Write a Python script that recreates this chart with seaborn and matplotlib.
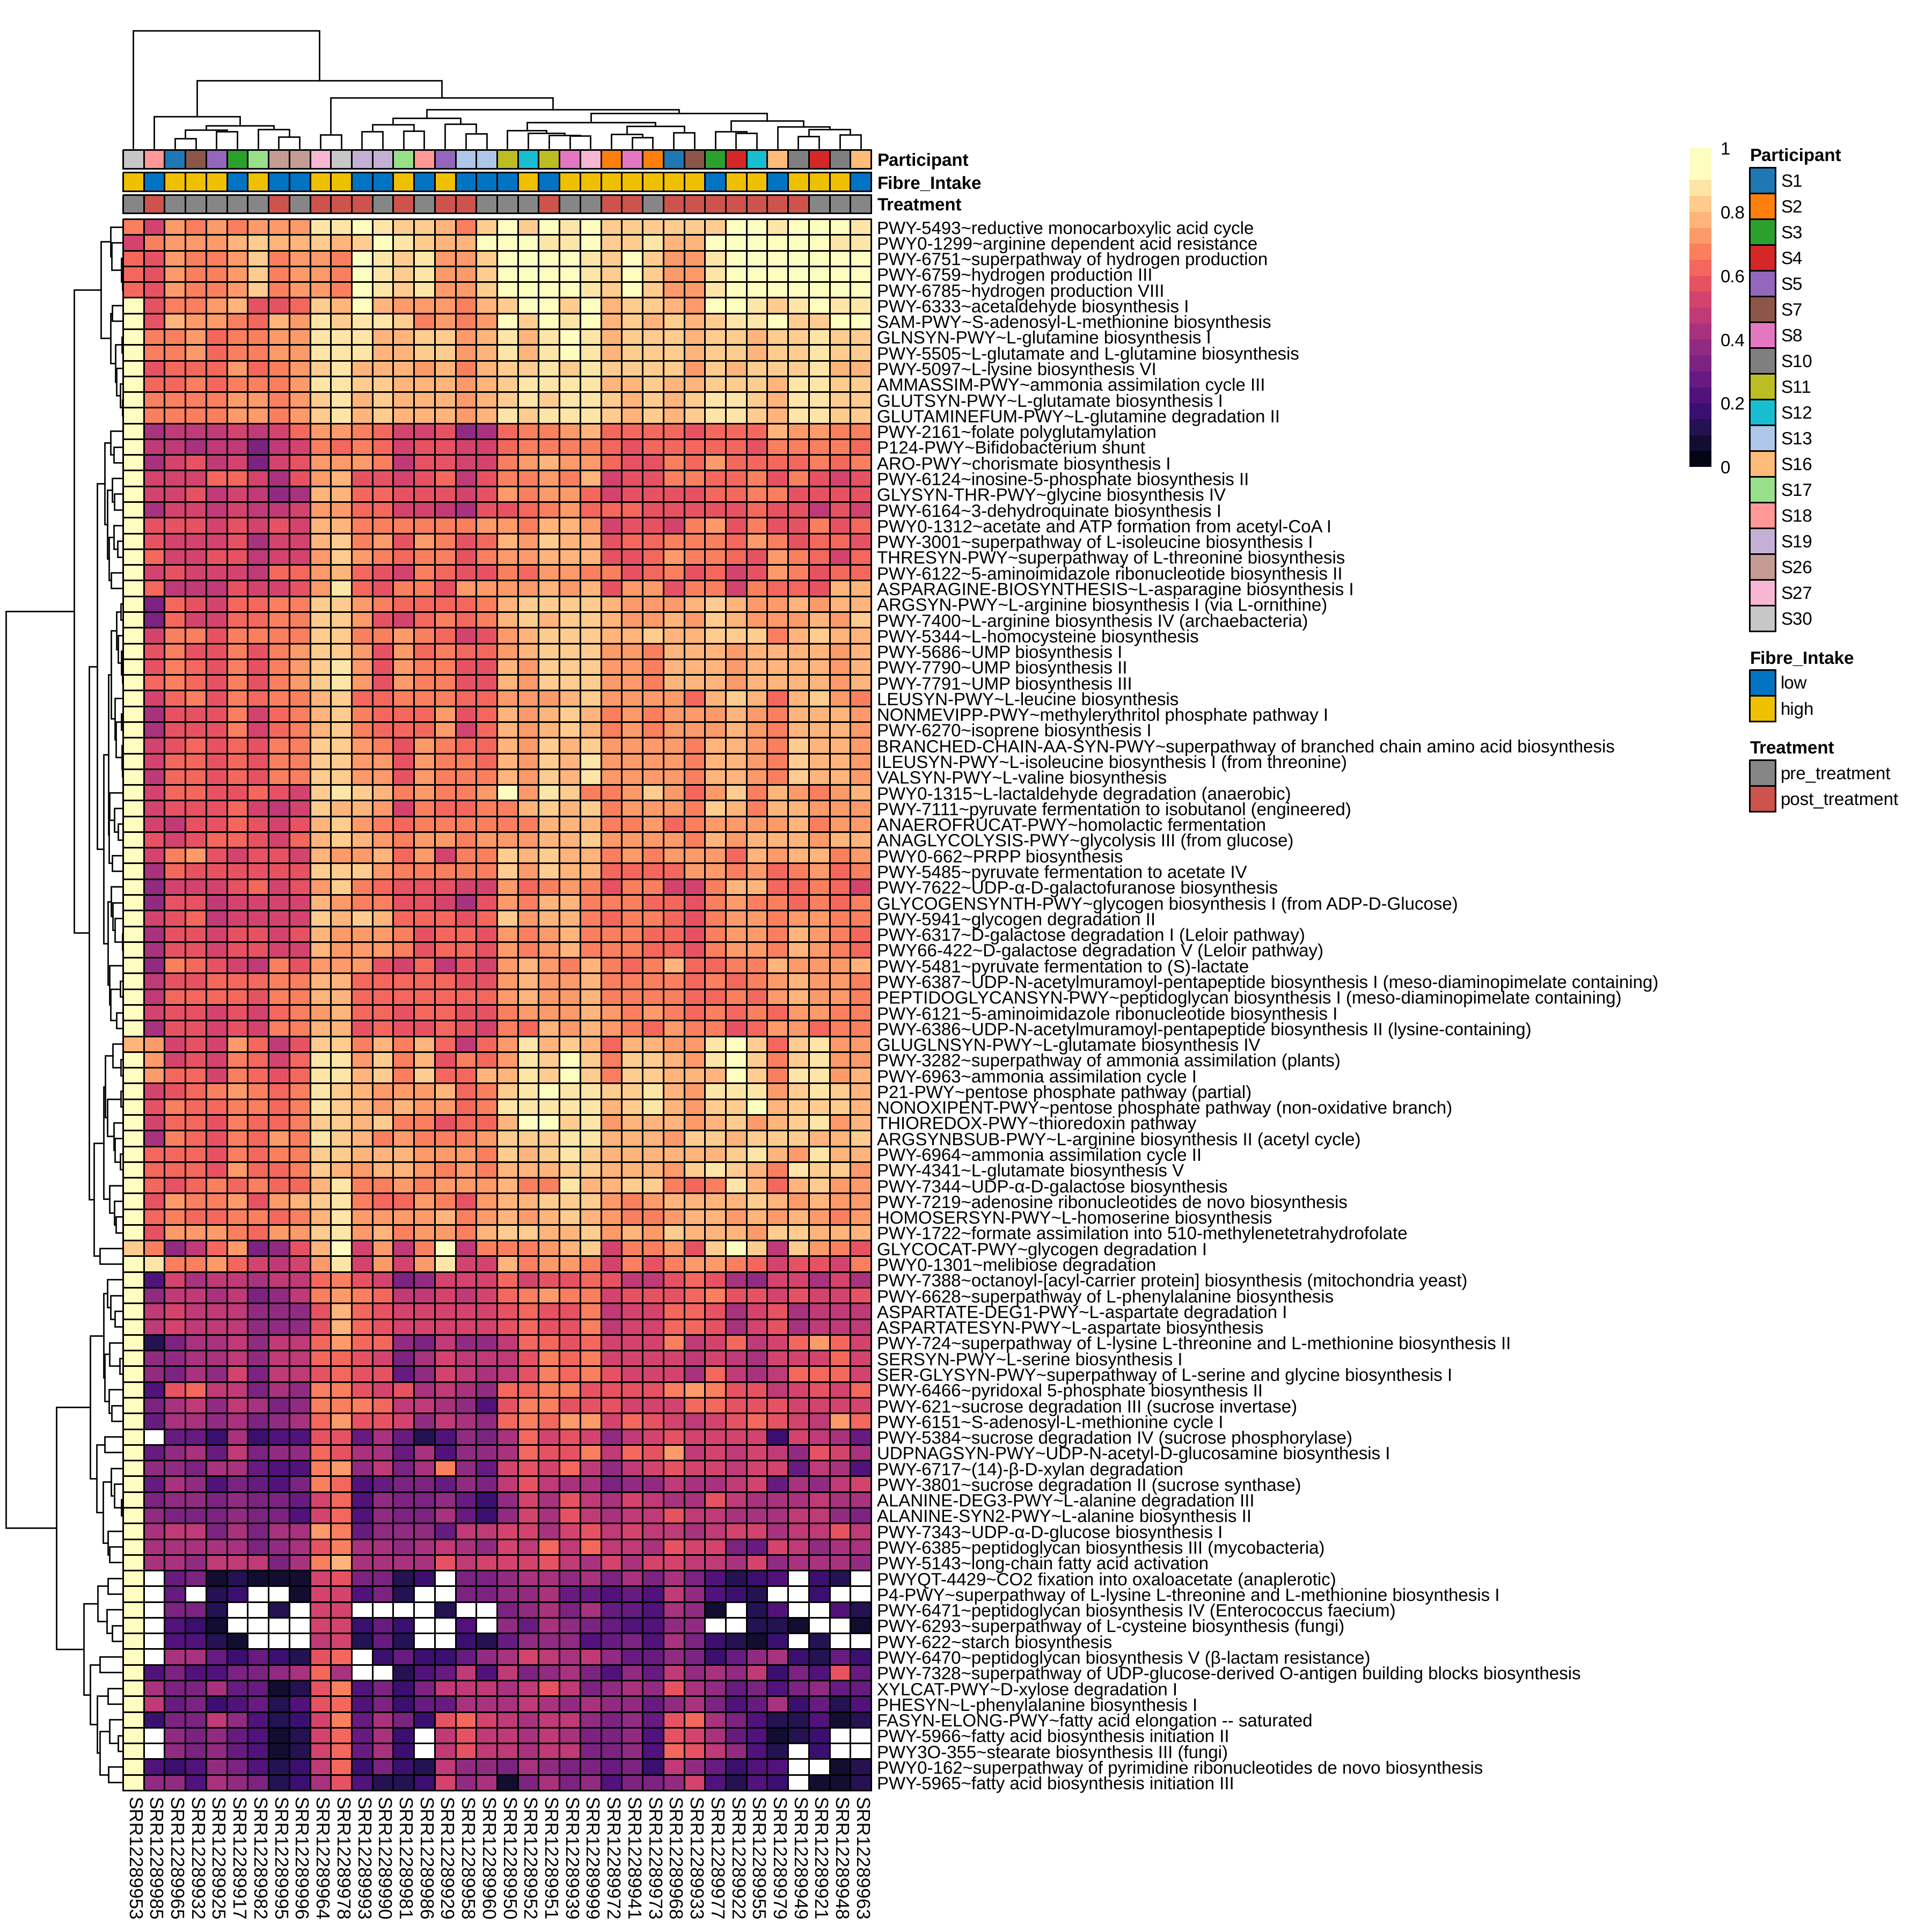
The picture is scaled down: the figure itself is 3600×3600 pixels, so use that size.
import numpy as np
import matplotlib
matplotlib.use("Agg")
import matplotlib.pyplot as plt
from matplotlib.colors import ListedColormap, BoundaryNorm
from matplotlib.transforms import ScaledTranslation
import seaborn as sns

sns.set_theme(style="white")
plt.rcParams['font.family'] = ['Liberation Sans', 'DejaVu Sans']
plt.rcParams['font.size'] = 8
plt.rcParams['text.color'] = 'black'
plt.rcParams['xtick.color'] = 'black'
plt.rcParams['ytick.color'] = 'black'
plt.rcParams['text.hinting'] = 'no_hinting'
plt.rcParams['text.hinting_factor'] = 1

SAMPLES = ["953","985","965","932","925","917","982","995","996","964","978","993","990","981","986","929","958","960",
           "950","952","951","939","999","972","941","973","968","933","977","922","955","979","949","921","948","963"]
SAMPLES = ["SRR12289" + s for s in SAMPLES]

PATHWAYS = """PWY-5493~reductive monocarboxylic acid cycle
PWY0-1299~arginine dependent acid resistance
PWY-6751~superpathway of hydrogen production
PWY-6759~hydrogen production III
PWY-6785~hydrogen production VIII
PWY-6333~acetaldehyde biosynthesis I
SAM-PWY~S-adenosyl-L-methionine biosynthesis
GLNSYN-PWY~L-glutamine biosynthesis I
PWY-5505~L-glutamate and L-glutamine biosynthesis
PWY-5097~L-lysine biosynthesis VI
AMMASSIM-PWY~ammonia assimilation cycle III
GLUTSYN-PWY~L-glutamate biosynthesis I
GLUTAMINEFUM-PWY~L-glutamine degradation II
PWY-2161~folate polyglutamylation
P124-PWY~Bifidobacterium shunt
ARO-PWY~chorismate biosynthesis I
PWY-6124~inosine-5-phosphate biosynthesis II
GLYSYN-THR-PWY~glycine biosynthesis IV
PWY-6164~3-dehydroquinate biosynthesis I
PWY0-1312~acetate and ATP formation from acetyl-CoA I
PWY-3001~superpathway of L-isoleucine biosynthesis I
THRESYN-PWY~superpathway of L-threonine biosynthesis
PWY-6122~5-aminoimidazole ribonucleotide biosynthesis II
ASPARAGINE-BIOSYNTHESIS~L-asparagine biosynthesis I
ARGSYN-PWY~L-arginine biosynthesis I (via L-ornithine)
PWY-7400~L-arginine biosynthesis IV (archaebacteria)
PWY-5344~L-homocysteine biosynthesis
PWY-5686~UMP biosynthesis I
PWY-7790~UMP biosynthesis II
PWY-7791~UMP biosynthesis III
LEUSYN-PWY~L-leucine biosynthesis
NONMEVIPP-PWY~methylerythritol phosphate pathway I
PWY-6270~isoprene biosynthesis I
BRANCHED-CHAIN-AA-SYN-PWY~superpathway of branched chain amino acid biosynthesis
ILEUSYN-PWY~L-isoleucine biosynthesis I (from threonine)
VALSYN-PWY~L-valine biosynthesis
PWY0-1315~L-lactaldehyde degradation (anaerobic)
PWY-7111~pyruvate fermentation to isobutanol (engineered)
ANAEROFRUCAT-PWY~homolactic fermentation
ANAGLYCOLYSIS-PWY~glycolysis III (from glucose)
PWY0-662~PRPP biosynthesis
PWY-5485~pyruvate fermentation to acetate IV
PWY-7622~UDP-α-D-galactofuranose biosynthesis
GLYCOGENSYNTH-PWY~glycogen biosynthesis I (from ADP-D-Glucose)
PWY-5941~glycogen degradation II
PWY-6317~D-galactose degradation I (Leloir pathway)
PWY66-422~D-galactose degradation V (Leloir pathway)
PWY-5481~pyruvate fermentation to (S)-lactate
PWY-6387~UDP-N-acetylmuramoyl-pentapeptide biosynthesis I (meso-diaminopimelate containing)
PEPTIDOGLYCANSYN-PWY~peptidoglycan biosynthesis I (meso-diaminopimelate containing)
PWY-6121~5-aminoimidazole ribonucleotide biosynthesis I
PWY-6386~UDP-N-acetylmuramoyl-pentapeptide biosynthesis II (lysine-containing)
GLUGLNSYN-PWY~L-glutamate biosynthesis IV
PWY-3282~superpathway of ammonia assimilation (plants)
PWY-6963~ammonia assimilation cycle I
P21-PWY~pentose phosphate pathway (partial)
NONOXIPENT-PWY~pentose phosphate pathway (non-oxidative branch)
THIOREDOX-PWY~thioredoxin pathway
ARGSYNBSUB-PWY~L-arginine biosynthesis II (acetyl cycle)
PWY-6964~ammonia assimilation cycle II
PWY-4341~L-glutamate biosynthesis V
PWY-7344~UDP-α-D-galactose biosynthesis
PWY-7219~adenosine ribonucleotides de novo biosynthesis
HOMOSERSYN-PWY~L-homoserine biosynthesis
PWY-1722~formate assimilation into 510-methylenetetrahydrofolate
GLYCOCAT-PWY~glycogen degradation I
PWY0-1301~melibiose degradation
PWY-7388~octanoyl-[acyl-carrier protein] biosynthesis (mitochondria yeast)
PWY-6628~superpathway of L-phenylalanine biosynthesis
ASPARTATE-DEG1-PWY~L-aspartate degradation I
ASPARTATESYN-PWY~L-aspartate biosynthesis
PWY-724~superpathway of L-lysine L-threonine and L-methionine biosynthesis II
SERSYN-PWY~L-serine biosynthesis I
SER-GLYSYN-PWY~superpathway of L-serine and glycine biosynthesis I
PWY-6466~pyridoxal 5-phosphate biosynthesis II
PWY-621~sucrose degradation III (sucrose invertase)
PWY-6151~S-adenosyl-L-methionine cycle I
PWY-5384~sucrose degradation IV (sucrose phosphorylase)
UDPNAGSYN-PWY~UDP-N-acetyl-D-glucosamine biosynthesis I
PWY-6717~(14)-β-D-xylan degradation
PWY-3801~sucrose degradation II (sucrose synthase)
ALANINE-DEG3-PWY~L-alanine degradation III
ALANINE-SYN2-PWY~L-alanine biosynthesis II
PWY-7343~UDP-α-D-glucose biosynthesis I
PWY-6385~peptidoglycan biosynthesis III (mycobacteria)
PWY-5143~long-chain fatty acid activation
PWYQT-4429~CO2 fixation into oxaloacetate (anaplerotic)
P4-PWY~superpathway of L-lysine L-threonine and L-methionine biosynthesis I
PWY-6471~peptidoglycan biosynthesis IV (Enterococcus faecium)
PWY-6293~superpathway of L-cysteine biosynthesis (fungi)
PWY-622~starch biosynthesis
PWY-6470~peptidoglycan biosynthesis V (β-lactam resistance)
PWY-7328~superpathway of UDP-glucose-derived O-antigen building blocks biosynthesis
XYLCAT-PWY~D-xylose degradation I
PHESYN~L-phenylalanine biosynthesis I
FASYN-ELONG-PWY~fatty acid elongation -- saturated
PWY-5966~fatty acid biosynthesis initiation II
PWY3O-355~stearate biosynthesis III (fungi)
PWY0-162~superpathway of pyrimidine ribonucleotides de novo biosynthesis
PWY-5965~fatty acid biosynthesis initiation III""".split("\n")

# Abundance bands: one character per cell, 0-9 then a-i
# (band width 0.05, 'i' is the 0.9-1 band), '.' is an empty cell.
LEVELS = [
"daededeeehhihggfdgigihiggggggiihiiih",
"adeeefgffgfgihgffiiihhigghffiiiiiihh",
"cbeddegdeedihgheegiiiihgigeehiiiiiii",
"cbeddegdeedihgheegiiiihgigeehiiiiiii",
"cbeddegdeedihgheegiiiihgigeehiiiiiii",
"ibddefbbcgfifeeedfgiigifggfeiihghihh",
"ibfeedcfehghhgdedeigihifgfgfghhiggii",
"iddecddeehhhffggefhfhihfgggfggfgghgg",
"iddecddeehhhffggefhfhihfgggfggfgghgg",
"ibcccecdeghfffefdfgghghggggegfggghff",
"iccdcdddehhggfffefghhhhffgffgggfhhgg",
"iddddeedeghfgfffefghghhgfgfghhgfhhgg",
"iddddeedeghfgfffefhghhhgfgfghhgfhhgg",
"i8999a9aceedcaab78cddefccccbcccfeedd",
"i9989969a"+"dcdcabba"+"acdddd"+"cbccc"+"ccbddddc",
"i8ab9a6ab"+"eeed9bba"+"adefee"+"cbbdc"+"eccccdcd",
"iaaacca8b"+"efbbabc9"+"bddedf"+"abbdd"+"ccdbdbab",
"iaab9a978"+"ffccbbba"+"bedeec"+"abbbb"+"ccddbbbb",
"i8aa9a99a"+"eeccaa98"+"bbcdec"+"ccbbb"+"bbcbb9ba",
"ibbbababa"+"ffdddddd"+"eedffe"+"abbad"+"ebdbbdbc",
"ibaaab8aa"+"fgdebedb"+"cfegff"+"bccdd"+"dcedbccb",
"icaabb9aa"+"egedcddb"+"deefff"+"bbced"+"dcbedcac",
"iabaaa9cc"+"efcbadcb"+"bdceed"+"dbcdb"+"cabedbcc",
"ic999baab"+"ehcbddbe"+"eeefef"+"beebd"+"dadccbff",
"i6cbaccdd"+"ggedcccc"+"dfgggg"+"feeef"+"gfeefeff",
"i6caaccdd"+"ggebacdc"+"dfgfgg"+"feefe"+"gfeeefeg",
"iaddbdddd"+"ggddedca"+"befggg"+"ffgff"+"gggdfgff",
"ibdbbdbde"+"ggebecdc"+"cefggg"+"eedff"+"feffffef",
"ibdcbdbde"+"ghebeddb"+"bfeggg"+"eedff"+"feffffef",
"icdcbdbde"+"ghebeddb"+"bfeggg"+"eedff"+"feffffef",
"iacdbdcdd"+"fgccdddc"+"ceeefg"+"eeeec"+"fgfcfged",
"i8bbbdacd"+"fgdccceb"+"cfefgf"+"dedee"+"efedfffe",
"i8bbbdacd"+"fgdcccea"+"cfefgf"+"dedee"+"efedfffe",
"iabcbcbdd"+"ggedbedc"+"cfegfg"+"eeeed"+"ffedgffe",
"iaccbcbdd"+"ggeebedd"+"cfegfh"+"eeeed"+"ffedgffe",
"i9ccbcbdd"+"ggeebedd"+"dfegfh"+"eeeed"+"ffedgffe",
"iaccbbcba"+"ghgfdedd"+"eiehgd"+"degec"+"egdfedef",
"iabbbca9a"+"gffeadcc"+"ddfgfg"+"deeed"+"gfdffeee",
"ia9bbcbab"+"fgedcddd"+"dddfff"+"ddecd"+"eeeefdee",
"ibabccbac"+"fgfedeed"+"eeeffg"+"eeeed"+"fefffeff",
"iadebabba"+"feefcead"+"dgfgff"+"dedee"+"ecfeffde",
"i8cbbbbbb"+"gggedddd"+"dgegff"+"cccce"+"edecdecd",
"i7aaabcab"+"egdcbbba"+"aecded"+"bddaa"+"dffccdca",
"i7bb9aaaa"+"feddbba8"+"bedffd"+"ddccb"+"deddcdcd",
"iabc9aaaa"+"gfgfcccb"+"cgeffd"+"cddcb"+"deedeedd",
"i8bbabbab"+"feeedbcc"+"bedefd"+"ddccb"+"deedfedc",
"i8bbabbaa"+"feeedbcc"+"bedefd"+"ddccb"+"deedfedc",
"i7dcba9db"+"eeebac9b"+"aefedf"+"dcdfc"+"cddfeeef",
"i9bbcccdd"+"ffcccccb"+"befeef"+"ddddc"+"dcdefeed",
"i9ccccbdd"+"ffcccccc"+"cefeef"+"ddddc"+"cdcefeed",
"iabbabacd"+"efccbccb"+"bdeeef"+"ededc"+"dcdceedd",
"i8bbabadd"+"ffbcbbcb"+"adcfef"+"edced"+"dbceecdd",
"feabaec9b"+"ggdfdfc9"+"cehfgf"+"cffee"+"higcghee",
"ieabadcac"+"hhegdfbd"+"cehgig"+"dggfe"+"higdghee",
"ieccadcbc"+"hhfgdgcc"+"ffhgig"+"dggff"+"figdhhef",
"iabcdedcd"+"hgfeeefc"+"dghihh"+"gghfe"+"hhheghgf",
"ibdccddcd"+"hgfefeec"+"dhhhhh"+"fghfe"+"ggifgggf",
"iaccbdccd"+"ggfgddbc"+"cfiigh"+"efffe"+"fgefghef",
"i8dcbdced"+"hgfdeddd"+"eggghh"+"fffeg"+"gfgggffg",
"icccbdcdd"+"ggfffeee"+"dgfghg"+"fffff"+"fghfehff",
"icccbeccd"+"gfeffede"+"dfffgg"+"fffeg"+"hgfdhgge",
"icbcdcdcc"+"fhddedee"+"efddhf"+"fggdc"+"dhfcfgee",
"ibeddebef"+"ghdccedb"+"effggg"+"edeff"+"ffgfefee",
"icdccddcd"+"fheeeefd"+"efefgf"+"eddef"+"fefefede",
"ibeeedcee"+"ghefdeed"+"fggffg"+"efegf"+"ffeggfff",
"gd79ce67b"+"fiae9di9"+"dddefg"+"addeb"+"gig9gedb",
"ihddeca9a"+"ehaeaeha"+"afdeed"+"adbde"+"edcabbad",
"i4a899899"+"cdba67aa"+"acabbc"+"b99bc"+"b87aa8a8",
"i79989679"+"dedc99a9"+"acdedd"+"abbbc"+"dbbabaab",
"i9a999777"+"bfcbaaaa"+"abcbbd"+"9aacc"+"b8ab8999",
"i9a999777"+"bfcbaaaa"+"abcbbd"+"9aacc"+"b8ab8999",
"i26889799"+"cecc7697"+"79ccbc"+"aaad9"+"ac9aceca",
"i77889799"+"ccba68a9"+"99bdcd"+"aaaa9"+"a98aaaca",
"i7687a699"+"bcbb57a9"+"89bdcd"+"baaa8"+"c989ccca",
"i4bc99687"+"ddbab898"+"7ccddb"+"bbbde"+"dbb9abac",
"i68979867"+"dddc9987"+"4bddbb"+"baaac"+"cbbbaaaa",
"i58878678"+"cebba798"+"7cdcee"+"acba9"+"abcba9ec",
"i.5538344"+"bb585247"+"68caba"+"79aba"+"aaa3a985",
"i57859677"+"cb885847"+"78cbbd"+"9cbe9"+"a9a97ba8",
"i77688544"+"de7968d7"+"5abac9"+"79aba"+"a9aa5984",
"i58746546"+"dc456657"+"69b988"+"67798"+"89a5879a",
"i67767665"+"ac476675"+"37a8b9"+"8a988"+"b9888988",
"i76667664"+"ac476685"+"37a8b9"+"899b9"+"98889976",
"i89968688"+"ed577759"+"9aa8ab"+"9a998"+"9aa899b9",
"i88888678"+"bd887898"+"7a9c9c"+"998ba"+"a65a9788",
"i88799968"+"df8888b9"+"aaab98"+"a8aa9"+"98a78887",
"i.5612111"+"ab6623.6"+"678878"+"68686"+"4234.32.",
"i.5.23..1"+"aa462..6"+"677855"+"45497"+"432..3..",
"i.662..2."+"aa....2."+".67868"+"55487"+"1.24..42",
"i.431...."+"aa353..4"+".75876"+"54477"+"..221..1",
"i.4421..."+"9a252..3"+"257774"+"56486"+"3213.2..",
"i.8853532"+"bc.35335"+"78a989"+"75576"+"35783253",
"i46446678"+"c8..2459"+"496786"+"47597"+"879364b5",
"i86685512"+"bd463699"+"989b96"+"787b8"+"75646755",
"i95634524"+"bc463558"+"889878"+"77578"+"64583524",
"i36697423"+"ad5863bc"+"a98997"+"675bc"+"86422412",
"i.7675412"+"ac583.9b"+"998986"+"674ba"+"854123..",
"i.7675412"+"ac583.9b"+"998996"+"674cb"+"9742.3..",
"i43476423"+"9c363297"+"768766"+"56397"+"5344..12",
"i77487623"+"8b4223a7"+"816867"+"4667a"+"4243.112",
]

PARTICIPANT_NAMES = ["S1","S2","S3","S4","S5","S7","S8","S10","S11","S12","S13","S16","S17","S18","S19","S26","S27","S30"]
PARTICIPANT_COLORS = ["#1F77B4","#FF7F0E","#2CA02C","#D62728","#9467BD","#8C564B","#E377C2","#7F7F7F","#BCBD22","#17BECF",
                      "#AEC7E8","#FFBB78","#98DF8A","#FF9896","#C5B0D5","#C49C94","#F7B6D2","#C7C7C7"]
FIBRE_NAMES = ["low","high"]
FIBRE_COLORS = ["#0073C2","#EFC000"]
TREAT_NAMES = ["pre_treatment","post_treatment"]
TREAT_COLORS = ["#868686","#CD534C"]

PARTICIPANT = ["S30","S18","S1","S7","S5","S3","S17","S26","S26","S27","S30","S19","S19","S17","S18","S5","S13","S13",
               "S11","S12","S11","S8","S27","S2","S8","S2","S1","S7","S3","S4","S12","S16","S10","S4","S10","S16"]
FIBRE = [1,0,1,1,1,0,1,0,0,1,1,0,0,1,0,1,0,0,0,1,0,1,1,1,1,1,1,1,0,1,1,0,1,1,1,0]
TREATMENT = [0,1,0,0,0,0,0,1,0,1,1,1,0,1,0,1,1,0,0,0,1,0,0,1,1,0,1,1,1,1,1,1,1,0,0,0]

# Dendrograms as nested merges (height, left, right); L is a leaf, leaves run in display order.
L = 0
COL_TREE = (219, L, (126, (59, L, (42, (34, (18,L,L), (31,L,L)), (35, L, (21,L,L)))),
            (94, (25,L,L), (72, (56, (44,(31,L,L),(32,L,L)), (45, L, (27,L,L))),
             (65, (48, (33, L, (28, L, (24, L, (23,L,L)))), (41, (26, L, (20,L,L)), (29,L,L))),
              (51, (31, L, (28,L,L)), (40, L, (35,(22,L,L),(25,L,L)))))))))
_T0 = (23, L, (21, L, (3, L, (1, L, L))))
_T1 = (20, L, L)
_T2 = (14, (2, L, L), (12, L, (5, L, (1, L, L))))
_B = (41, _T0, (23, _T1, _T2))
_U = (34, (23, L, (17, L, L)), (29, (20, L, (16, L, L)), (26, (17, L, (10, L, L)), (22, L, L))))
_P = (27, (22, (12, (4,L,L), (9, L, (3, L, (1, L, L)))), (15, L, (13, (3,L,L), (2, L, (1,L,L))))),
      (26, (25, L, (16, L, (9, L, L))), (20, L, L)))
_Q = (28, (22, L, (19, L, (15, L, (1, L, L)))), (25, L, (23, (5, L, L), (12, L, L))))
_C1 = (48, _U, (36, _P, _Q))
_C2 = (54, (36, (33, (19, L, (4, L, L)), (29, (4, L, L), (17, L, (15, L, (5, L, L))))),
            (25, L, (16, L, (13, L, L)))), (43, L, L))
_A = (91, _B, (63, _C1, _C2))
_E = (61, (36, (29, L, (23, L, (15, L, L))), (34, (25, L, (6, L, L)), (26, L, (21, L, L)))),
      (49, (34, L, L), (37, (22, L, (16, L, (3, L, L))), (28, L, (25, L, L)))))
_F = (73, (47, (28, L, L), (30, L, (20, L, L))),
      (61, (43, L, L), (48, (28, L, L), (43, (25, L, (9, L, L)), (27, L, L)))))
ROW_TREE = (218, _A, (124, _E, _F))

CBAR_TICKS = [0, 0.2, 0.4, 0.6, 0.8, 1]

CHARS = "0123456789abcdefghi"
bad = [i for i, r in enumerate(LEVELS) if len(r) != 36]
assert not bad and len(LEVELS) == 100 and len(PATHWAYS) == 100, f"bad rows {bad} {len(LEVELS)} {len(PATHWAYS)}"
matrix = np.array([[np.nan if c == "." else (CHARS.index(c) + 0.5) * 0.05 for c in r] for r in LEVELS])
matrix[matrix > 0.9] = 0.95

W = H = 3600
FS = 8.02
fig = plt.figure(figsize=(12, 12), dpi=300, facecolor="white")
def axpx(x0, y0, x1, y1):
    return fig.add_axes([x0 / W, 1 - y1 / H, (x1 - x0) / W, (y1 - y0) / H])
DOWN = ScaledTranslation(0, -4.5 / 300, fig.dpi_scale_trans)

LW = 0.7
X0, X1 = 229, 1623
band_colors = [plt.cm.magma(v) for v in np.linspace(0.04, 1, 19)]
cmap = ListedColormap(band_colors)
cmap.set_bad("white")
bounds = [i * 0.05 for i in range(19)] + [1.0]
norm = BoundaryNorm(bounds, cmap.N)

# main heatmap + colour bar
ax = axpx(X0, 408, X1, 3336)
cax = axpx(3148, 276, 3189, 870)
sns.heatmap(matrix, ax=ax, cmap=cmap, norm=norm, linewidths=LW, linecolor="black",
            xticklabels=SAMPLES, yticklabels=PATHWAYS, cbar_ax=cax,
            cbar_kws=dict(spacing="proportional", ticks=CBAR_TICKS, drawedges=False))
ax.collections[0].set_clip_on(False)
ax.yaxis.tick_right()
ax.tick_params(axis="both", length=0)
ax.tick_params(axis="y", pad=2.6, labelsize=FS, labelrotation=0)
ax.tick_params(axis="x", pad=3.0, labelsize=8.3)
for t in ax.get_xticklabels():
    t.set_rotation(270); t.set_ha("center"); t.set_va("top")
for t in ax.get_yticklabels():
    t.set_va("center")
    t.set_transform(t.get_transform() + DOWN)
cax.minorticks_off()
cax.tick_params(which="both", length=0, labelsize=FS, pad=4)
cax.set_yticks(CBAR_TICKS)
cax.set_yticklabels(["0", "0.2", "0.4", "0.6", "0.8", "1"])
for s in cax.spines.values():
    s.set_visible(False)

# annotation tracks
def track(y0, y1, codes, colors, name):
    a = axpx(X0, y0, X1, y1)
    sns.heatmap(np.array(codes, dtype=float)[None, :], ax=a, cmap=ListedColormap(colors), vmin=-0.5, vmax=len(colors) - 0.5,
                linewidths=LW, linecolor="black", cbar=False, xticklabels=False, yticklabels=False)
    a.collections[0].set_clip_on(False)
    a.text(1.0085, 0.5, name, transform=a.transAxes + DOWN, ha="left", va="center", fontsize=FS, fontweight="bold", color="black")

track(279, 314, [PARTICIPANT_NAMES.index(p) for p in PARTICIPANT], PARTICIPANT_COLORS, "Participant")
track(321, 356, FIBRE, FIBRE_COLORS, "Fibre_Intake")
track(363, 397, TREATMENT, TREAT_COLORS, "Treatment")

# dendrograms
def draw(node, ax, horizontal, state):
    if node == L:
        state[0] += 1
        return state[0] - 0.5, 0
    h, a, b = node
    pa, ha = draw(a, ax, horizontal, state)
    pb, hb = draw(b, ax, horizontal, state)
    ps, hs = [pa, pa, pb, pb], [ha, h, h, hb]
    if horizontal:
        ax.plot(hs, ps, color="black", lw=0.65, solid_capstyle="projecting", solid_joinstyle="miter", clip_on=False)
    else:
        ax.plot(ps, hs, color="black", lw=0.65, solid_capstyle="projecting", solid_joinstyle="miter", clip_on=False)
    return (pa + pb) / 2, h

cd = axpx(X0, 57, X1, 276)
draw(COL_TREE, cd, False, [0])
cd.set_xlim(0, 36); cd.set_ylim(0, 219); cd.axis("off")

rd = axpx(11, 408, 229, 3336)
draw(ROW_TREE, rd, True, [0])
rd.set_xlim(218, 0); rd.set_ylim(100, 0); rd.axis("off")

# legends
def legend(y_title, y0, y1, names, colors, title):
    a = axpx(3260, y0, 3308, y1)
    n = len(names)
    sns.heatmap(np.arange(n, dtype=float)[:, None], ax=a, cmap=ListedColormap(colors), vmin=-0.5, vmax=n - 0.5,
                linewidths=LW, linecolor="black", cbar=False, xticklabels=False, yticklabels=names)
    a.collections[0].set_clip_on(False)
    a.yaxis.tick_right()
    a.tick_params(axis="y", length=0, labelsize=FS, pad=2.4, labelrotation=0)
    fig.text(3261 / W, 1 - y_title / H, title, ha="left", va="center", fontsize=FS, fontweight="bold", color="black")

legend(292, 312, 1176, PARTICIPANT_NAMES, PARTICIPANT_COLORS, "Participant")
legend(1228, 1248, 1344, FIBRE_NAMES, FIBRE_COLORS, "Fibre_Intake")
legend(1396, 1416, 1512, TREAT_NAMES, TREAT_COLORS, "Treatment")

fig.savefig("out.png", dpi=300, facecolor="white")
